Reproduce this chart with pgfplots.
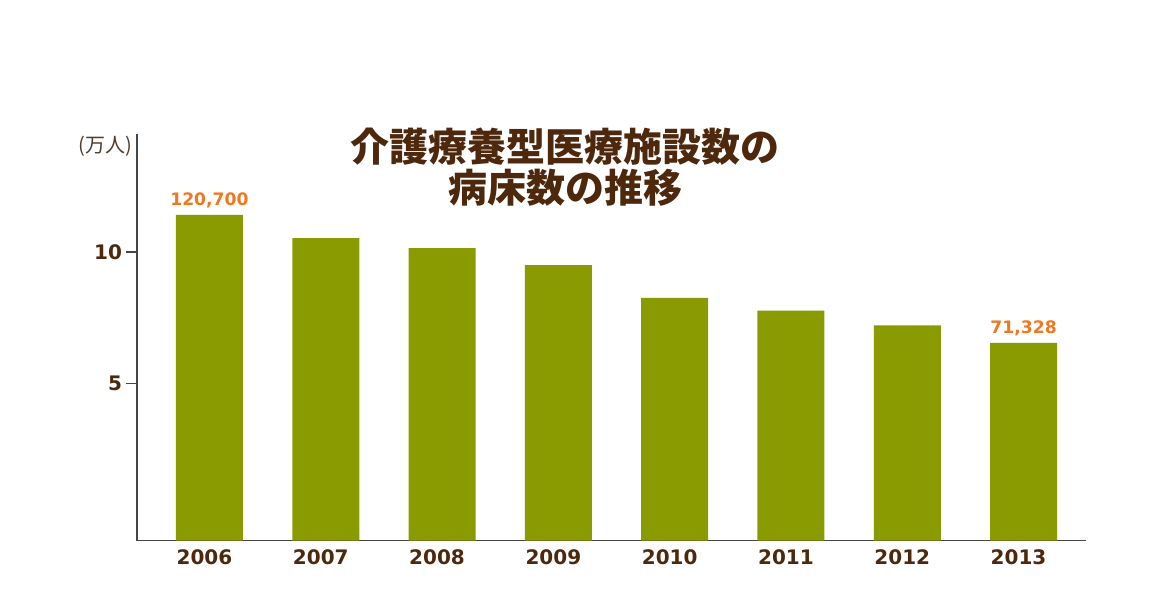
\documentclass[border=0pt]{standalone}
\usepackage{pgfplots}
\pgfplotsset{compat=1.18}
\usepackage{pgfplotstable}
\usepackage{fontspec}
\setmainfont{DejaVu Sans}
\newfontfamily\cjk{Noto Sans CJK JP}
\definecolor{barg}{RGB}{137,155,0}
\definecolor{brownt}{RGB}{78,40,12}
\definecolor{orangel}{RGB}{240,120,32}
\definecolor{axgray}{RGB}{70,70,70}
\pgfplotstableread{
x val lab
0 11.40 {120,700}
1 10.52 {}
2 10.14 {}
3 9.49 {}
4 8.25 {}
5 7.76 {}
6 7.20 {}
7 6.54 {71,328}
}\beds
\begin{document}
\begin{tikzpicture}[x=1pt,y=1pt]
\useasboundingbox (0,0) rectangle (582.5,300);
\begin{axis}[
  at={(68.5pt,29.65pt)}, anchor=south west,
  scale only axis, width=474.5pt, height=203.35pt,
  xmin=-0.623, xmax=7.537,
  ymin=-0.98, ymax=14.475,
  y coord trafo/.code={\pgfmathparse{#1+0.98}},
  y coord inv trafo/.code={\pgfmathparse{#1-0.98}},
  axis x line*=bottom, axis y line*=left,
  axis line style={axgray, line width=0.7pt, -},
  xtick={0,...,7},
  xticklabels={2006,2007,2008,2009,2010,2011,2012,2013},
  xtick style={draw=none},
  ytick={5,10}, yticklabels={5,10},
  ytick style={draw=axgray, line width=0.8pt},
  ytick align=outside, major tick length=5.5pt,
  ticklabel style={font=\fontsize{10}{12}\selectfont\bfseries, text=brownt},
  yticklabel style={xshift=1.5pt},
  xticklabel style={yshift=-1pt, xshift=-2.5pt},
  nodes near coords,
  point meta=explicit symbolic,
  every node near coord/.append style={font=\fontsize{8.6}{10}\selectfont\bfseries, text=orangel, inner sep=3.2pt},
]
\addplot[ybar, bar width=33.5pt, fill=barg, draw=none] table[x=x, y=val, meta=lab] {\beds};
\end{axis}
\node[text=brownt, font=\cjk\fontsize{19.5}{20.5}\selectfont\bfseries, align=center] at (282.5,216.6) {介護療養型医療施設数の\\病床数の推移};
\node[text={rgb,255:red,80;green,60;blue,45}, font=\cjk\fontsize{10}{11}\selectfont] at (52.75,226.65) {(万人)};
\end{tikzpicture}
\end{document}
